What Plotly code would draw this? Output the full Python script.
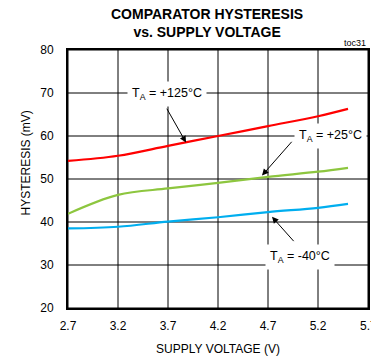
import plotly.graph_objects as go

voltage = [2.7, 3.2, 3.7, 4.2, 4.7, 5.2, 5.5]
hyst_125 = [54.2, 55.4, 57.7, 60.0, 62.3, 64.6, 66.3]
hyst_25 = [41.9, 46.3, 47.8, 49.1, 50.5, 51.7, 52.6]
hyst_m40 = [38.5, 38.9, 40.1, 41.1, 42.3, 43.3, 44.2]
x_ticks = [2.7, 3.2, 3.7, 4.2, 4.7, 5.2, 5.7]
y_ticks = [20, 30, 40, 50, 60, 70, 80]

FONT = "Liberation Sans, Arial, sans-serif"

fig = go.Figure()
# grid lines from tick arrays
for xv in x_ticks:
    fig.add_shape(type="line", xref="x", yref="paper", x0=xv, x1=xv, y0=0, y1=1,
                  line=dict(color="black", width=1), layer="below")
for yv in y_ticks:
    fig.add_shape(type="line", xref="paper", yref="y", x0=0, x1=1, y0=yv, y1=yv,
                  line=dict(color="black", width=1), layer="below")

fig.add_trace(go.Scatter(x=voltage, y=hyst_125, mode="lines", line=dict(color="#ff0000", width=2.2, shape="spline")))
fig.add_trace(go.Scatter(x=voltage, y=hyst_25, mode="lines", line=dict(color="#8dc63f", width=2.2, shape="spline")))
fig.add_trace(go.Scatter(x=voltage, y=hyst_m40, mode="lines", line=dict(color="#00aeef", width=2.2, shape="spline")))

labels = [
    ("T<sub>A</sub> = +125°C", 3.69, 69.8, (3.68, 66.7), (3.88, 58.5)),
    ("T<sub>A</sub> = +25°C", 5.32, 59.9, (4.95, 59.0), (4.64, 50.8)),
    ("T<sub>A</sub> = -40°C", 5.02, 31.8, (4.97, 35.2), (4.74, 41.2)),
]
for text, tx, ty, tail, head in labels:
    fig.add_annotation(x=tx, y=ty, xref="x", yref="y", text=text, showarrow=False,
                       bgcolor="white", font=dict(family=FONT, size=12.5, color="black"),
                       borderpad=4)
    fig.add_annotation(x=head[0], y=head[1], ax=tail[0], ay=tail[1], xref="x", yref="y",
                       axref="x", ayref="y", text="", showarrow=True, arrowhead=2,
                       arrowsize=1.3, arrowwidth=1, arrowcolor="black")

# last x tick label (clipped at the page edge, as in the reference)
fig.add_annotation(x=x_ticks[-1], y=0, xref="x", yref="paper", yanchor="top", yshift=-9,
                   text=str(x_ticks[-1]), showarrow=False, font=dict(family=FONT, size=12, color="black"))

fig.add_annotation(x=0.463, y=1.0, xref="paper", yref="paper", yanchor="bottom", yshift=8,
                   text="<b>COMPARATOR HYSTERESIS<br>vs. SUPPLY VOLTAGE</b>", showarrow=False,
                   font=dict(family=FONT, size=14, color="black"), align="center")
fig.add_annotation(x=1.0, y=1.0, xref="paper", yref="paper", xanchor="right", yanchor="bottom",
                   text="toc31", showarrow=False, font=dict(family=FONT, size=9, color="black"))
fig.add_annotation(x=-0.17, y=0.564, xref="paper", yref="paper", textangle=-90,
                   text="HYSTERESIS (mV)", showarrow=False, font=dict(family=FONT, size=12, color="black"))

fig.update_layout(
    width=371, height=360, margin=dict(l=68, r=3, t=50, b=52),
    paper_bgcolor="white", plot_bgcolor="white", showlegend=False,
    font=dict(family=FONT, size=12, color="black"),
)
fig.update_xaxes(range=[2.7, 5.7], tickvals=x_ticks, ticktext=[str(v) for v in x_ticks],
                 showgrid=False, zeroline=False,
                 showline=True, linecolor="black", linewidth=2, mirror=True,
                 title=dict(text="SUPPLY VOLTAGE (V)", standoff=12, font=dict(size=12)),
                 ticks="outside", ticklen=6, tickcolor="white", automargin=False)
fig.update_yaxes(range=[20, 80], tickvals=y_ticks, showgrid=False,
                 zeroline=False, showline=True, linecolor="black", linewidth=2, mirror=True,
                 ticks="outside", ticklen=10, tickcolor="white", automargin=False)

fig.write_html("out.html", config={"displayModeBar": False},
               post_script="document.body.style.margin='0';document.body.style.overflow='hidden';")
